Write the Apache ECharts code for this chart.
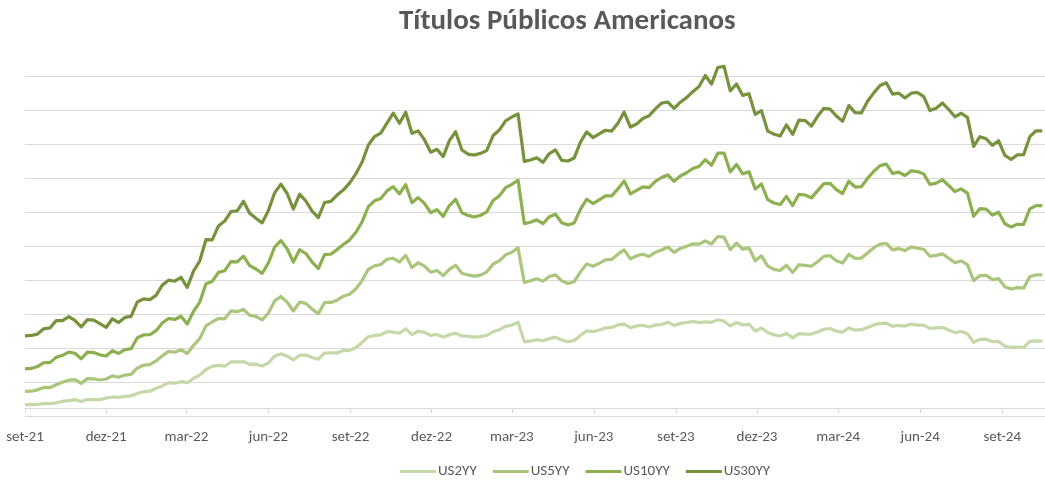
<!DOCTYPE html>
<html>
<head>
<meta charset="utf-8">
<script src="https://cdn.jsdelivr.net/npm/echarts@6/dist/echarts.min.js"></script>
<style>
  html, body { margin: 0; padding: 0; background: #ffffff; }
  #chart { width: 1045px; height: 482px; }
</style>
</head>
<body>
<div id="chart"></div>
<script>
// Weekly observations (Wednesdays), first one on 2021-09-01
const firstObs = '2021-09-01';

// Yields in % per week; the chart stacks them (Excel stacked-line style)
const us2y = [
  0.21,0.21,0.22,0.27,0.27,0.32,0.40,0.45,0.50,0.40,0.51,0.51,0.50,0.59,0.66,0.64,0.70,0.73,
  0.87,0.97,1.00,1.17,1.31,1.50,1.47,1.56,1.50,1.75,1.95,2.28,2.46,2.52,2.47,2.72,2.72,2.73,2.58,2.59,2.48,2.66,3.06,3.20,3.06,2.84,3.11,3.13,2.98,2.88,3.24,3.25,3.25,3.39,3.40,3.56,3.87,4.20,4.28,4.31,4.50,4.48,4.41,4.67,4.33,4.53,4.46,4.28,4.34,4.18,4.32,4.41,
  4.25,4.23,4.18,4.21,4.29,4.50,4.62,4.81,4.89,5.06,3.92,3.95,4.03,3.97,4.09,4.18,4.01,3.91,3.99,4.28,4.55,4.50,4.60,4.72,4.75,4.90,4.95,4.74,4.84,4.88,4.78,4.89,4.93,5.06,4.87,4.99,5.04,5.10,5.04,5.08,5.05,5.20,5.12,4.84,5.04,4.89,4.95,4.54,4.72,4.45,4.32,4.25,
  4.40,4.14,4.39,4.36,4.36,4.48,4.64,4.69,4.53,4.48,4.72,4.59,4.62,4.75,4.90,4.99,5.00,4.82,4.87,4.83,4.95,4.89,4.89,4.70,4.73,4.75,4.60,4.45,4.51,4.38,3.88,4.05,4.06,3.91,3.92,3.65,3.58,3.59,3.56,3.93,3.96,3.95
];
const us5y = [
  0.78,0.79,0.86,0.95,0.94,1.06,1.13,1.20,1.18,1.06,1.23,1.22,1.16,1.13,1.24,1.18,1.25,1.26,
  1.50,1.56,1.56,1.61,1.77,1.84,1.82,1.88,1.71,1.95,2.14,2.56,2.61,2.76,2.79,3.00,2.96,3.08,2.88,2.81,2.71,2.94,3.25,3.37,3.18,2.88,3.13,3.04,2.85,2.68,2.97,2.97,3.10,3.20,3.30,3.45,3.63,3.97,4.09,4.14,4.26,4.34,4.19,4.32,3.94,4.03,3.90,3.72,3.76,3.62,3.85,4.00,
  3.69,3.61,3.59,3.62,3.73,3.98,4.05,4.21,4.28,4.37,3.48,3.55,3.58,3.50,3.66,3.66,3.48,3.43,3.45,3.74,3.94,3.85,3.92,4.00,4.00,4.16,4.36,4.04,4.13,4.18,4.15,4.29,4.38,4.42,4.30,4.41,4.48,4.57,4.61,4.76,4.61,4.90,4.94,4.49,4.67,4.46,4.48,4.13,4.24,3.91,3.85,3.85,
  4.01,3.84,4.05,4.04,3.99,4.14,4.29,4.28,4.15,4.06,4.33,4.22,4.21,4.38,4.54,4.66,4.69,4.49,4.52,4.44,4.54,4.52,4.46,4.24,4.26,4.33,4.22,4.11,4.15,4.07,3.62,3.75,3.76,3.65,3.70,3.49,3.43,3.50,3.50,3.81,3.88,3.89
];
const us10y = [
  1.32,1.34,1.37,1.46,1.47,1.61,1.58,1.65,1.55,1.45,1.56,1.54,1.48,1.35,1.48,1.40,1.49,1.51,
  1.77,1.78,1.76,1.78,1.93,1.94,1.93,1.97,1.74,2.00,2.15,2.48,2.39,2.71,2.83,2.90,2.93,3.13,2.93,2.79,2.74,2.94,3.16,3.29,3.13,2.88,3.08,2.93,2.77,2.65,2.83,2.84,2.98,3.04,3.19,3.32,3.45,3.69,3.83,3.88,4.02,4.21,4.01,4.16,3.82,3.83,3.69,3.50,3.58,3.48,3.75,3.88,
  3.56,3.50,3.48,3.52,3.53,3.74,3.82,3.95,4.00,3.98,3.46,3.44,3.47,3.39,3.51,3.57,3.42,3.44,3.46,3.69,3.80,3.69,3.74,3.77,3.74,3.84,4.06,3.83,3.84,3.96,4.05,4.16,4.26,4.24,4.18,4.26,4.33,4.43,4.57,4.78,4.63,4.90,4.95,4.57,4.63,4.44,4.47,4.22,4.23,3.91,3.90,3.88,
  4.05,3.94,4.14,4.14,4.02,4.18,4.28,4.25,4.18,4.08,4.31,4.20,4.20,4.39,4.50,4.62,4.67,4.50,4.50,4.42,4.47,4.51,4.43,4.22,4.25,4.36,4.28,4.18,4.24,4.20,3.79,3.94,3.89,3.80,3.91,3.71,3.65,3.73,3.75,3.98,4.08,4.08
];
const us30y = [
  1.94,1.94,1.91,1.99,2.04,2.16,2.04,2.08,1.93,1.87,1.91,1.91,1.83,1.68,1.88,1.82,1.90,1.90,
  2.11,2.12,2.07,2.08,2.23,2.25,2.25,2.29,2.16,2.36,2.42,2.60,2.44,2.73,2.92,2.95,3.00,3.23,3.08,2.99,2.97,3.09,3.20,3.32,3.26,3.11,3.27,3.09,2.99,3.00,3.06,3.11,3.21,3.20,3.35,3.45,3.52,3.61,3.78,3.85,3.99,4.33,4.15,4.26,4.08,3.92,3.74,3.56,3.55,3.52,3.82,3.97,
  3.69,3.61,3.64,3.64,3.61,3.82,3.87,3.93,3.96,3.90,3.66,3.66,3.65,3.60,3.72,3.78,3.67,3.76,3.82,3.94,3.96,3.88,3.88,3.86,3.81,3.86,4.05,3.93,3.91,4.02,4.22,4.27,4.38,4.29,4.29,4.34,4.42,4.52,4.70,4.95,4.78,5.04,5.10,4.77,4.73,4.61,4.60,4.40,4.31,4.03,4.05,4.03,
  4.21,4.19,4.37,4.38,4.22,4.37,4.43,4.37,4.33,4.26,4.44,4.38,4.34,4.54,4.61,4.71,4.78,4.67,4.64,4.56,4.57,4.65,4.55,4.35,4.40,4.51,4.47,4.40,4.45,4.46,4.11,4.23,4.14,4.10,4.20,4.02,3.98,4.08,4.10,4.25,4.40,4.39
];

const seriesNames = ['US2YY', 'US5YY', 'US10YY', 'US30YY'];
const seriesColors = ['#c5d8a8', '#a9c67c', '#8cb04f', '#76923c'];

// Quarterly date ticks and their labels
const tickDates = ['2021-09-01','2021-12-01','2022-03-01','2022-06-01','2022-09-01','2022-12-01',
  '2023-03-01','2023-06-01','2023-09-01','2023-12-01','2024-03-01','2024-06-01','2024-09-01'];
const tickLabels = ['set-21','dez-21','mar-22','jun-22','set-22','dez-22',
  'mar-23','jun-23','set-23','dez-23','mar-24','jun-24','set-24'];
const axisEnd = '2024-10-19';

// The x axis counts days from the first observation
const DAY = 86400000;
const ts = s => Date.parse(s + 'T00:00:00Z');
const t0 = ts(firstObs);
const dayOf = s => Math.round((ts(s) - t0) / DAY);
const tickDays = tickDates.map(dayOf);
const labelFor = v => {
  const k = tickDays.indexOf(Math.round(v));
  return k >= 0 ? tickLabels[k] : '';
};

// Stacked line: each series is drawn on top of the ones before it
const raw = [us2y, us5y, us10y, us30y];
const stacked = [];
raw.forEach((arr, s) => {
  stacked.push(arr.map((v, i) => [i * 7, s === 0 ? v : stacked[s - 1][i][1] + v]));
});

const textFont = 'Carlito, "Liberation Sans Narrow", "Liberation Sans", sans-serif';

const chart = echarts.init(document.getElementById('chart'), null, { renderer: 'canvas' });
chart.setOption({
  backgroundColor: '#ffffff',
  animation: false,
  title: {
    text: 'Títulos Públicos Americanos',
    left: 399,
    top: 7,
    padding: 0,
    textStyle: { fontFamily: textFont, fontSize: 29, fontWeight: 'bold', color: '#595959' }
  },
  legend: {
    data: seriesNames,
    left: 400,
    top: 464,
    padding: 0,
    icon: 'rect',
    itemWidth: 36,
    itemHeight: 3,
    itemGap: 16,
    textStyle: { fontFamily: textFont, fontSize: 15, color: '#595959', padding: [0, 0, 0, -3] }
  },
  grid: { left: 25, right: 0, top: 76.7, bottom: 65.3, containLabel: false },
  xAxis: {
    type: 'value',
    min: 0,
    max: dayOf(axisEnd),
    axisLine: { onZero: true, lineStyle: { color: '#d9d9d9', width: 1 } },
    axisTick: { show: true, length: 5, customValues: tickDays, lineStyle: { color: '#d9d9d9' } },
    axisLabel: {
      customValues: tickDays,
      formatter: labelFor,
      margin: 13,
      fontFamily: textFont,
      fontSize: 15,
      color: '#595959',
      showMinLabel: true,
      showMaxLabel: true
    },
    splitLine: { show: false }
  },
  yAxis: {
    type: 'value',
    min: -0.5,
    max: 19.5,
    interval: 2,
    axisLine: { show: false },
    axisTick: { show: false },
    axisLabel: { show: false },
    splitLine: { show: true, lineStyle: { color: '#d9d9d9', width: 1.2 } }
  },
  series: stacked.map((pts, i) => ({
    name: seriesNames[i],
    type: 'line',
    data: pts,
    showSymbol: false,
    symbol: 'none',
    clip: false,
    color: seriesColors[i],
    lineStyle: { width: 3.2, color: seriesColors[i], join: 'round' },
    emphasis: { disabled: true }
  }))
});
</script>
</body>
</html>
